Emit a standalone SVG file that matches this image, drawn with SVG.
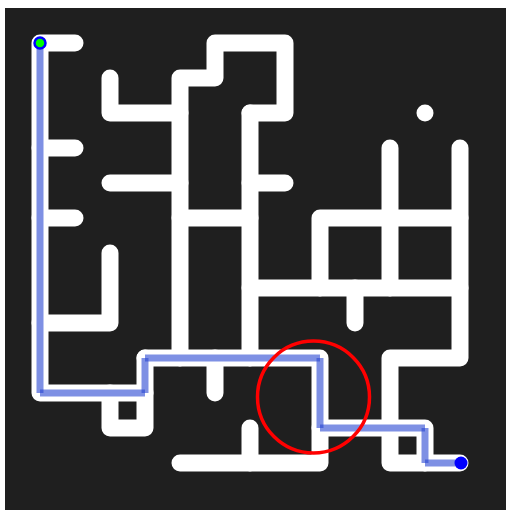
<svg xmlns="http://www.w3.org/2000/svg" width="506" height="510" viewBox="0 0 506 510">
  <style>
    .maze { fill: none; stroke: #ffffff; stroke-width: 17; stroke-linecap: round; stroke-linejoin: round; }
    .sol { fill: none; stroke: rgb(40,70,210); stroke-opacity: 0.6; stroke-width: 7; stroke-linecap: butt; }
  </style>
  <rect x="0" y="0" width="506" height="510" fill="#ffffff"/>
  <rect x="5" y="8" width="501" height="502" fill="#1f1f1f"/>
  <g id="maze">
    <path class="maze" d="M75,43 H40 V393 H145"/>
    <path class="maze" d="M145,358 V428 H110 V393"/>
    <path class="maze" d="M40,148 H75"/>
    <path class="maze" d="M40,218 H75"/>
    <path class="maze" d="M110,253 V323 H40"/>
    <path class="maze" d="M110,78 V113 H180"/>
    <path class="maze" d="M110,183 H180"/>
    <path class="maze" d="M250,113 H285 V43 H215 V78 H180 V358"/>
    <path class="maze" d="M180,218 H250"/>
    <path class="maze" d="M250,113 V358"/>
    <path class="maze" d="M250,183 H285"/>
    <path class="maze" d="M145,358 H320 V463 H180"/>
    <path class="maze" d="M215,358 V393"/>
    <path class="maze" d="M250,428 V463"/>
    <path class="maze" d="M250,288 H460"/>
    <path class="maze" d="M320,288 V218 H460"/>
    <path class="maze" d="M460,148 V358 H390 V463 H460"/>
    <path class="maze" d="M390,148 V288"/>
    <path class="maze" d="M355,288 V323"/>
    <path class="maze" d="M320,428 H425 V463"/>
    <circle cx="425" cy="113" r="8.5" fill="#ffffff"/>
  </g>
  <g id="solution">
    <line class="sol" x1="40" y1="43" x2="40" y2="393"/>
    <line class="sol" x1="40" y1="393" x2="145" y2="393"/>
    <line class="sol" x1="145" y1="393" x2="145" y2="358"/>
    <line class="sol" x1="145" y1="358" x2="320" y2="358"/>
    <line class="sol" x1="320" y1="358" x2="320" y2="428"/>
    <line class="sol" x1="320" y1="428" x2="425" y2="428"/>
    <line class="sol" x1="425" y1="428" x2="425" y2="463"/>
    <line class="sol" x1="425" y1="463" x2="460" y2="463"/>
  </g>
  <g id="start">
    <circle cx="40" cy="43" r="5.5" fill="#00ff00" stroke="#0000ff" stroke-width="2.5"/>
  </g>
  <g id="end">
    <circle cx="461" cy="463" r="6.5" fill="#0000ff"/>
  </g>
  <g id="highlight">
    <circle cx="313.5" cy="397" r="56" fill="none" stroke="#ff0000" stroke-width="3.5"/>
  </g>
</svg>
